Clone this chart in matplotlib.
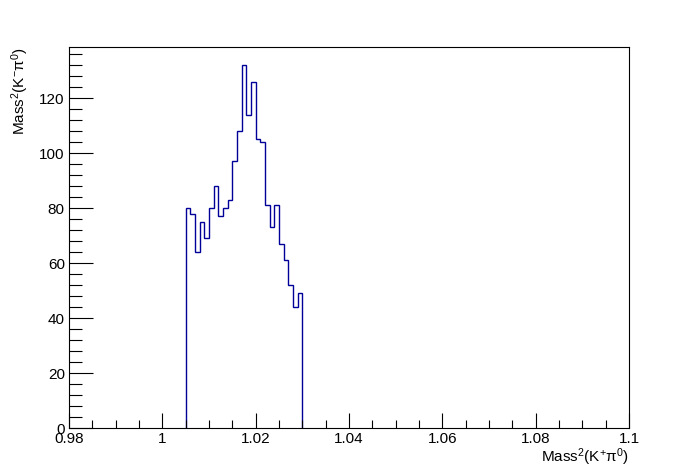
import numpy as np
import matplotlib
matplotlib.use("Agg")
import matplotlib.pyplot as plt
from matplotlib.ticker import MultipleLocator, FuncFormatter

plt.rcParams['font.family'] = ['Liberation Sans', 'DejaVu Sans']
plt.rcParams['mathtext.fontset'] = 'custom'
plt.rcParams['mathtext.rm'] = 'Liberation Sans'
plt.rcParams['mathtext.it'] = 'Liberation Sans'
plt.rcParams['mathtext.default'] = 'rm'

# histogram: 25 bins of width 0.001 starting at 1.005
bin_lo = 1.005
bin_width = 0.001
counts = [80, 78, 64, 75, 69, 80, 88, 77, 80, 83, 97, 108, 132,
          114, 126, 105, 104, 81, 73, 81, 67, 61, 52, 44, 49]
x_range = (0.98, 1.1)
x_label = 'Mass$^{2}$(K$^{+}$π$^{0}$)'
y_label = 'Mass$^{2}$(K$^{-}$π$^{0}$)'

edges = bin_lo + bin_width * np.arange(len(counts) + 1)

fig = plt.figure(figsize=(6.98, 4.76), dpi=100)
ax = fig.add_axes([69 / 698, 48 / 476, 560 / 698, 381 / 476])

line_col = '#000099'
ax.stairs(counts, edges, color=line_col, linewidth=1.0, baseline=0)

ax.set_xlim(*x_range)
ax.set_ylim(0, max(counts) * 1.05)

ax.xaxis.set_major_locator(MultipleLocator(0.02))
ax.xaxis.set_minor_locator(MultipleLocator(0.005))
ax.yaxis.set_major_locator(MultipleLocator(20))
ax.yaxis.set_minor_locator(MultipleLocator(4))
ax.xaxis.set_major_formatter(FuncFormatter(lambda v, p: '%g' % round(v, 4)))

ax.tick_params(which='both', direction='in', top=False, right=False,
               labelsize=11, width=0.8)
ax.tick_params(axis='x', which='major', length=11, pad=3)
ax.tick_params(axis='x', which='minor', length=5.5)
ax.tick_params(axis='y', which='major', length=17, pad=3)
ax.tick_params(axis='y', which='minor', length=9)
for s in ax.spines.values():
    s.set_linewidth(0.8)

ax.set_xlabel(x_label, fontsize=11, loc='right', labelpad=0)
ax.set_ylabel(y_label, fontsize=11, loc='top', labelpad=6)

fig.savefig('out.png', dpi=100)
